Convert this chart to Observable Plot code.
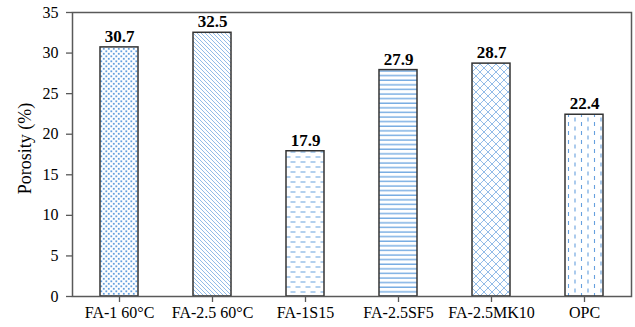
<!DOCTYPE html>
<html>
<head>
<meta charset="utf-8">
<script src="https://cdn.jsdelivr.net/npm/d3@7"></script>
<script src="https://cdn.jsdelivr.net/npm/@observablehq/plot@0.6"></script>
<style>
  html, body { margin: 0; padding: 0; background: white; }
  #chart svg, #chart svg text { font-family: "Liberation Serif", "Times New Roman", Times, serif !important; }
</style>
</head>
<body>
<div id="chart"></div>
<script>
const categories = ["FA-1 60°C", "FA-2.5 60°C", "FA-1S15", "FA-2.5SF5", "FA-2.5MK10", "OPC"];
const porosity = [30.7, 32.5, 17.9, 27.9, 28.7, 22.4];
const patternIds = ["pDots", "pDiag", "pHDash", "pHLine", "pCross", "pVDash"];
const yTicks = [0, 5, 10, 15, 20, 25, 30, 35];
const yLabel = "Porosity (%)";

const data = categories.map((c, i) => ({cat: c, v: porosity[i], pat: patternIds[i]}));

const blue = "#4a8fd8";
const font = "Liberation Serif, Times New Roman, serif";

const svg = Plot.plot({
  width: 635,
  height: 327,
  marginLeft: 72,
  marginRight: 4,
  marginTop: 12,
  marginBottom: 31,
  style: {fontFamily: font, fontSize: "15px", color: "#000", background: "white", overflow: "visible"},
  x: {domain: categories, paddingInner: 0.59, paddingOuter: 0.295, label: null},
  y: {domain: [0, 35], label: null},
  marks: [
    Plot.barY(data, {x: "cat", y: "v", fill: d => `url(#${d.pat})`, stroke: "#333", strokeWidth: 1.5}),
    Plot.text(data, {x: "cat", y: "v", text: d => d.v.toFixed(1), dy: -11, fontWeight: "bold", fontSize: 17, fill: "#000"}),
    Plot.frame({stroke: "#595959", strokeWidth: 1.5}),
    Plot.axisY({ticks: yTicks, tickSize: 6, tickPadding: 8, stroke: "#595959", strokeWidth: 1.3, label: null, fontSize: 16, fill: "#000"}),
    Plot.axisX({tickSize: 6, tickPadding: 4, stroke: "#595959", strokeWidth: 1.3, label: null, fontSize: 16, fill: "#000"}),
    Plot.text([yLabel], {frameAnchor: "left", textAnchor: "middle", dx: -47, dy: -6, rotate: -90, fontSize: 18, fill: "#000", text: d => d})
  ]
});

const defs = document.createElementNS("http://www.w3.org/2000/svg", "defs");
defs.innerHTML = `
<pattern id="pDots" patternUnits="userSpaceOnUse" width="5" height="5">
  <rect width="5" height="5" fill="white"/>
  <rect x="0.4" y="0.4" width="1.8" height="1.8" fill="${blue}" opacity="0.85"/>
  <rect x="2.9" y="2.9" width="1.8" height="1.8" fill="${blue}" opacity="0.85"/>
</pattern>
<pattern id="pDiag" patternUnits="userSpaceOnUse" width="4" height="4">
  <rect width="4" height="4" fill="white"/>
  <path d="M-1,-1 L5,5 M-1,3 L1,5 M3,-1 L5,1" stroke="${blue}" stroke-width="1" opacity="0.6"/>
</pattern>
<pattern id="pHDash" patternUnits="userSpaceOnUse" width="10" height="10">
  <rect width="10" height="10" fill="white"/>
  <path d="M0.5,2 L5.5,2 M5.5,7 L10.5,7 M-4.5,7 L0.5,7" stroke="${blue}" stroke-width="1.1" opacity="0.85"/>
</pattern>
<pattern id="pHLine" patternUnits="userSpaceOnUse" width="4" height="4.6">
  <rect width="4" height="4.6" fill="white"/>
  <path d="M0,2 L4,2" stroke="${blue}" stroke-width="1.2" opacity="0.9"/>
</pattern>
<pattern id="pCross" patternUnits="userSpaceOnUse" width="8" height="8">
  <rect width="8" height="8" fill="white"/>
  <path d="M0,0 L8,8 M8,0 L0,8" stroke="${blue}" stroke-width="1" opacity="0.6"/>
</pattern>
<pattern id="pVDash" patternUnits="userSpaceOnUse" width="13" height="9">
  <rect width="13" height="9" fill="white"/>
  <path d="M3,0.5 L3,4.5 M9.5,5 L9.5,9 " stroke="${blue}" stroke-width="1.1" opacity="0.85"/>
</pattern>`;
svg.insertBefore(defs, svg.firstChild);

document.getElementById("chart").appendChild(svg);
</script>
</body>
</html>
